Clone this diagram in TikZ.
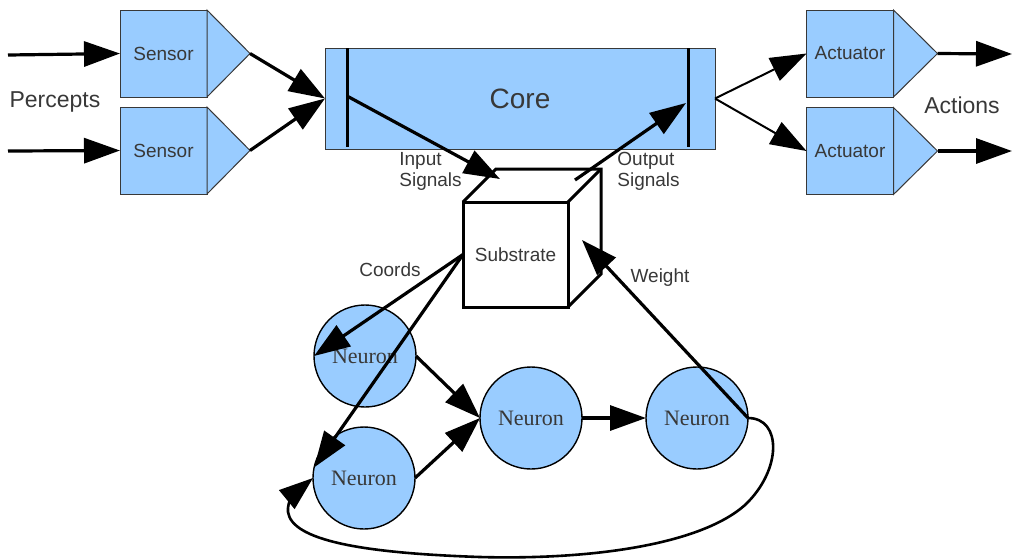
\documentclass[tikz,border=0pt]{standalone}
\usepackage{fontspec}
\setmainfont{Liberation Serif}
\setsansfont{Liberation Sans}
\usepackage{tikz}
\usetikzlibrary{positioning, arrows.meta}
\definecolor{boxblue}{HTML}{99CCFF}
\definecolor{textgray}{HTML}{383838}

\begin{document}
\begin{tikzpicture}[x=0.5pt,y=-0.5pt,
  box/.style={draw=textgray,fill=boxblue,line width=0.5pt,minimum width=43.5pt,minimum height=43.5pt,
    inner sep=0pt,outer sep=0pt,font=\sffamily\fontsize{9.5}{11}\selectfont,text=textgray},
  tri/.style={draw=textgray,fill=boxblue,line width=0.5pt,line join=miter},
  neuron/.style={circle,draw=black,fill=boxblue,line width=0.7pt,minimum size=51pt,inner sep=0pt,
    outer sep=0pt,font=\fontsize{11}{13}\selectfont,text=textgray},
  cubeface/.style={draw=black,fill=white,line width=1.5pt,minimum size=52.5pt,inner sep=0pt,
    outer sep=0pt,font=\sffamily\fontsize{9.5}{11}\selectfont,text=textgray},
  cubeline/.style={draw=black,line width=1.5pt,line join=miter},
  bar/.style={line width=1.5pt},
  sig/.style={line width=1.6pt,-{Triangle[length=18pt,width=12.5pt]}},
  thinsig/.style={line width=1pt,-{Triangle[length=18pt,width=12.5pt]}},
  loopline/.style={line width=1.3pt,-{Triangle[length=17pt,width=12pt]}},
  lbl/.style={font=\sffamily\fontsize{9.5}{10.5}\selectfont,text=textgray,inner sep=0pt},
  biglbl/.style={font=\sffamily\fontsize{11.5}{13}\selectfont,text=textgray,inner sep=0pt}]
\useasboundingbox (0,0) rectangle (1013,559);

% sensors
\node[box] (sen1) at (163.5,53.5) {Sensor};
\node[box] (sen2) at (163.5,150.5) {Sensor};
\coordinate (sen1tip) at ([xshift=21.5pt]sen1.east);
\coordinate (sen2tip) at ([xshift=21.5pt]sen2.east);
\draw[tri] (sen1.north east) -- (sen1tip) -- (sen1.south east) -- cycle;
\draw[tri] (sen2.north east) -- (sen2tip) -- (sen2.south east) -- cycle;

% actuators
\node[box] (act1) at (850,53.5) {Actuator};
\node[box] (act2) at (850,151) {Actuator};
\coordinate (act1tip) at ([xshift=22pt]act1.east);
\coordinate (act2tip) at ([xshift=22pt]act2.east);
\draw[tri] (act1.north east) -- (act1tip) -- (act1.south east) -- cycle;
\draw[tri] (act2.north east) -- (act2tip) -- (act2.south east) -- cycle;

% core with its two bars
\node[box,minimum width=195pt,minimum height=50.5pt,font=\sffamily\fontsize{14}{16}\selectfont] (core) at (520,98.5) {Core};
\draw[bar] (347,48) -- (347,147);
\draw[bar] (688,48) -- (688,147);
\coordinate (inbar) at (347,96);
\coordinate (outbar) at (686,103);

% substrate cube
\node[cubeface] (sub) at (515.5,254.5) {Substrate};
\draw[cubeline] (sub.north west) -- ++(33,-33) -- ++(105,0) -- ++(0,105) -- (sub.south east);
\draw[cubeline] (sub.north east) -- ++(33,-33);
\coordinate (subin) at (500,179);
\coordinate (subout) at (575,180);
\coordinate (subw) at (582,240);

% neurons
\node[neuron] (n1) at (365,356) {Neuron};
\node[neuron] (n2) at (364,478) {Neuron};
\node[neuron] (n3) at (531,418) {Neuron};
\node[neuron] (n4) at (697,418) {Neuron};

% percepts and actions
\coordinate (pin1) at (8,55);
\coordinate (pin2) at (8,151);
\coordinate (aout1) at (1012,54);
\coordinate (aout2) at (1012,151);
\draw[sig] (pin1) -- (sen1.west);
\draw[sig] (pin2) -- (sen2.west);
\draw[sig] (sen1tip) -- (core.west);
\draw[sig] (sen2tip) -- (core.west);
\draw[thinsig] (core.east) -- (act1.west);
\draw[thinsig] (core.east) -- (act2.west);
\draw[sig] (act1tip) -- (aout1);
\draw[sig] (act2tip) -- (aout2);

% signals through the substrate
\draw[sig] (inbar) -- (subin);
\draw[sig] (subout) -- (outbar);
\draw[sig] (sub.west) -- (n1.west);
\draw[sig] (sub.west) -- (n2.168);
\draw[sig] (n1.east) -- (n3.west);
\draw[sig] (n2.east) -- (n3.west);
\draw[sig] (n3.east) -- (n4.west);
\draw[sig] (n4.east) -- (subw);
\draw[loopline] (n4.east) .. controls (782,418) and (782,470) .. (745,505)
  .. controls (700,545) and (590,560) .. (480,557)
  .. controls (360,553) and (292,540) .. (288,512)
  .. controls (287,500) and (296,492) .. (n2.west);

% labels
\node[biglbl] (percepts) at (55,102) {Percepts};
\node[biglbl] (actions) at (962,105) {Actions};
\node[lbl,align=left,anchor=west] (inlbl) at (399,171) {Input\\Signals};
\node[lbl,align=left,anchor=west] (outlbl) at (617,171) {Output\\Signals};
\node[lbl] (coords) at (390,270) {Coords};
\node[lbl] (weight) at (660,278) {Weight};
\end{tikzpicture}
\end{document}
